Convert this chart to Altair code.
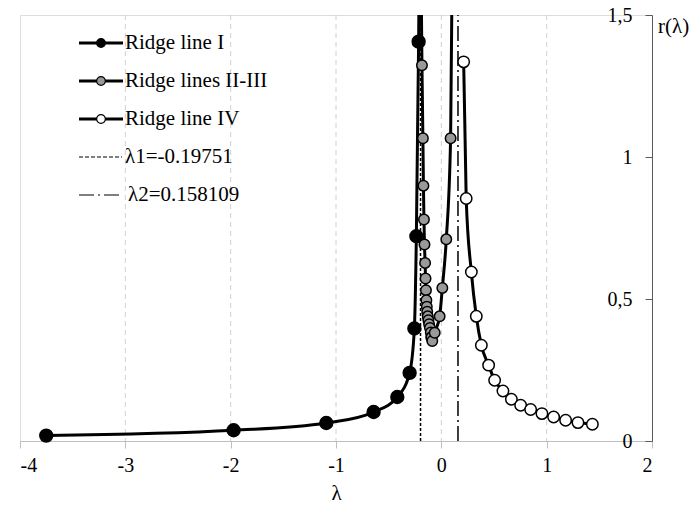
import altair as alt
import pandas as pd

# ---- data ----
ridge1_x = [-3.751, -1.972, -1.092, -0.643, -0.418, -0.301, -0.256, -0.237, -0.2156, -0.209]
ridge1_y = [0.019, 0.0377, 0.0634, 0.102, 0.155, 0.240, 0.396, 0.721, 1.406, 1.70]

ridge2_x = [-0.194, -0.184, -0.175, -0.170, -0.165, -0.160, -0.154, -0.150, -0.146, -0.142,
            -0.138, -0.134, -0.129, -0.123, -0.116, -0.108, -0.100, -0.094]
ridge2_y = [1.70, 1.323, 1.066, 0.899, 0.780, 0.692, 0.627, 0.572, 0.531, 0.496,
            0.473, 0.455, 0.439, 0.425, 0.411, 0.398, 0.382, 0.365]

ridge3_x = [-0.094, -0.086, -0.063, -0.016, 0.0095, 0.047, 0.088, 0.104]
ridge3_y = [0.365, 0.352, 0.381, 0.439, 0.539, 0.710, 1.066, 1.70]

ridge4_x = [0.212, 0.236, 0.285, 0.332, 0.380, 0.449, 0.506, 0.585, 0.665, 0.753,
            0.848, 0.955, 1.066, 1.180, 1.297, 1.434]
ridge4_y = [1.335, 0.854, 0.595, 0.439, 0.337, 0.267, 0.214, 0.176, 0.147, 0.126,
            0.111, 0.0965, 0.0846, 0.0729, 0.0648, 0.0588]

lambda_vals = [-0.19751, 0.158109]
lambda_labels = ["λ1=-0.19751", "λ2=0.158109"]
series_labels = ["Ridge line I", "Ridge lines II-III", "Ridge line IV"]

x_ticks = [-4, -3, -2, -1, 0, 1, 2]
grid_x = [-3, -2, -1, 0, 1]
y_ticks = [0, 0.5, 1, 1.5]

FONT = "Times New Roman, Liberation Serif, serif"
W, H = 632, 426

xs = alt.Scale(domain=[-4, 2], nice=False, zero=False)
ys = alt.Scale(domain=[0, 1.5], nice=False, zero=False)

X = alt.X("x:Q", scale=xs, axis=alt.Axis(
    values=x_ticks, grid=False, domainColor="#bfbfbf", tickColor="#bfbfbf",
    labelExpr="datum.value < 0 ? '-' + format(-datum.value, 'd') : format(datum.value, 'd')",
    tickSize=7, labelFont=FONT, labelFontSize=20, labelColor="#000",
    labelPadding=7, title="λ", titleFont=FONT, titleFontSize=21,
    titleFontWeight="normal", titleColor="#000", titlePadding=7))
Y = alt.Y("y:Q", scale=ys, axis=alt.Axis(
    orient="left", offset=-W, values=y_ticks, grid=False,
    labelExpr="replace(format(datum.value, '.1~f'), '.', ',')",
    domainColor="#595959", tickColor="#595959", tickSize=7,
    labelFont=FONT, labelFontSize=20, labelColor="#000", labelPadding=13,
    title=None))


def df(xv, yv):
    return pd.DataFrame({"x": xv, "y": yv})


layers = []

# vertical dashed grid lines
layers.append(alt.Chart(pd.DataFrame({"x": grid_x})).mark_rule(
    color="#d0d0d0", strokeWidth=1, strokeDash=[5, 4]).encode(x=X))

# lambda lines
lam = pd.DataFrame({"x": lambda_vals, "y": [0, 0], "y2": [1.5, 1.5]})
layers.append(alt.Chart(lam.iloc[[0]]).mark_rule(
    color="#000", strokeWidth=1.5, strokeDash=[3, 2]).encode(x=X, y=Y, y2="y2:Q"))
layers.append(alt.Chart(lam.iloc[[1]]).mark_rule(
    color="#000", strokeWidth=1.5, strokeDash=[15, 4, 2, 4]).encode(x=X, y=Y, y2="y2:Q"))


def series(xv, yv, fill, size, markers=True):
    d = df(xv, yv)
    out = [alt.Chart(d).mark_line(color="#000", strokeWidth=3, interpolate="monotone",
                                  clip=True).encode(x=X, y=Y)]
    if markers:
        out.append(alt.Chart(d).transform_filter("datum.y <= 1.5").mark_point(
            shape="circle", filled=True, fill=fill, stroke="#000", strokeWidth=1.5,
            size=size, opacity=1).encode(x=X, y=Y))
    return out


layers += series(ridge1_x, ridge1_y, "#000000", 165)
layers += series(ridge2_x, ridge2_y, "#999999", 110)
layers += series(ridge3_x, ridge3_y, "#999999", 110)
layers += series(ridge4_x, ridge4_y, "#ffffff", 130)

# legend
one = pd.DataFrame({"a": [0]})
rows = [28, 66, 104, 142, 180]
fills = ["#000000", "#999999", "#ffffff"]
lx0, lx1, lmx, ltx = 59, 103, 81, 105
for i, lab in enumerate(series_labels):
    ry = rows[i]
    layers.append(alt.Chart(one).mark_rule(color="#000", strokeWidth=3).encode(
        x=alt.value(lx0), x2=alt.value(lx1), y=alt.value(ry)))
    layers.append(alt.Chart(one).mark_point(
        shape="circle", filled=True, fill=fills[i], stroke="#000", strokeWidth=1.2,
        size=75, opacity=1).encode(x=alt.value(lmx), y=alt.value(ry)))
    layers.append(alt.Chart(pd.DataFrame({"t": [lab]})).mark_text(
        align="left", baseline="middle", font=FONT, fontSize=21, color="#000").encode(
        x=alt.value(ltx), y=alt.value(ry), text="t:N"))
dashes = [[4, 2], [15, 4, 2, 4]]
for j, lab in enumerate(lambda_labels):
    ry = rows[3 + j]
    layers.append(alt.Chart(one).mark_rule(color="#000", strokeWidth=1.2,
                                           strokeDash=dashes[j]).encode(
        x=alt.value(lx0), x2=alt.value(lx1 - 1), y=alt.value(ry)))
    layers.append(alt.Chart(pd.DataFrame({"t": [lab]})).mark_text(
        align="left", baseline="middle", font=FONT, fontSize=21, color="#000").encode(
        x=alt.value(ltx + (3 if j == 1 else 0)), y=alt.value(ry), text="t:N"))

# y-axis title at top right
layers.append(alt.Chart(pd.DataFrame({"t": ["r(λ)"]})).mark_text(
    align="left", baseline="middle", font=FONT, fontSize=21, color="#000").encode(
    x=alt.value(W + 6), y=alt.value(12), text="t:N"))

chart = alt.layer(*layers).properties(
    width=W, height=H,
    padding={"left": 20, "top": 15, "right": 44, "bottom": 68},
    autosize=alt.AutoSizeParams(type="none"),
).configure_view(stroke="#c8c8c8", strokeWidth=1).configure(background="white")

chart.save("out.html", embed_options={"renderer": "svg", "actions": False})
